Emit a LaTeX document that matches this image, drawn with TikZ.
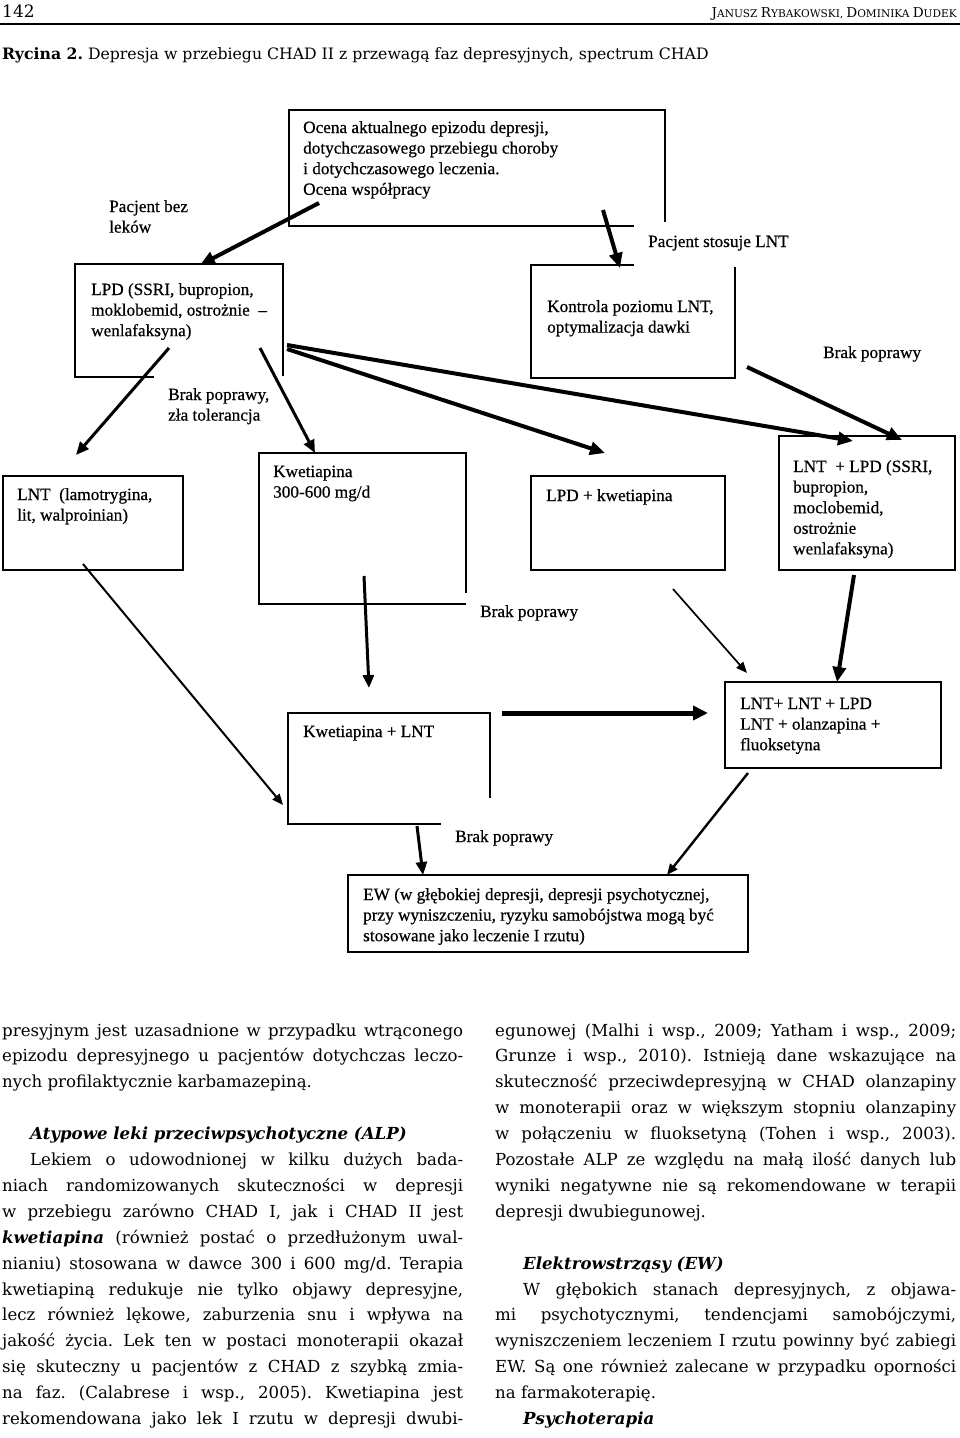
\documentclass[tikz,border=0pt]{standalone}
\usepackage{fontspec}
\setmainfont{DejaVu Serif}
\newfontfamily\tnr[FakeBold=0.5]{Liberation Serif}
\usetikzlibrary{arrows.meta}
\frenchspacing
\newcommand\lns[1]{\begin{tabular}[t]{@{}l@{}}#1\end{tabular}}
\newcommand\JL[1]{\makebox[\linewidth][s]{#1}\par}
\newcommand\LL[1]{\makebox[\linewidth][l]{#1}\par}
\newcommand\fsc[2]{{\fontsize{13.6}{15}\selectfont #1}{\fontsize{10.6}{12}\selectfont #2}}
\newcommand\bi[1]{\textbf{\textit{#1}}}
\tikzset{
  boxline/.style={line width=1.3pt, line cap=rect, line join=miter},
  dtext/.style={anchor=base west, inner sep=0pt, font=\tnr\fontsize{17.2}{20.6}\selectfont},
  body/.style={anchor=base west, inner sep=0pt},
  arrA/.style={line width=4pt, -{Triangle[length=15pt,width=13pt]}},
  arrB/.style={line width=3pt, -{Triangle[length=13pt,width=11pt]}},
  arrC/.style={line width=2pt, -{Triangle[length=11pt,width=9pt]}},
  arrW/.style={line width=5pt, -{Triangle[length=15pt,width=14pt]}},
}
\begin{document}
\begin{tikzpicture}[x=1pt,y=-1pt]
\useasboundingbox (0,0) rectangle (960,1438);
\fill[white] (0,0) rectangle (960,1438);

% ---------- page header ----------
\node[body, font=\fontsize{17}{18}\selectfont] (pgno) at (2,17) {142};
\node[anchor=base east, inner sep=0pt] (authors) at (957,17)
  {\fsc{J}{ANUSZ} \fsc{R}{YBAKOWSKI}, \fsc{D}{OMINIKA} \fsc{D}{UDEK}};
\draw[line width=1.2pt] (0,24) -- (960,24);
\node[body, font=\fontsize{15.7}{18}\selectfont] (caption) at (2,59)
  {\textbf{Rycina 2.} Depresja w przebiegu CHAD II z przewagą faz depresyjnych, spectrum CHAD};

% ---------- boxes ----------
\draw[boxline] (633,226) -- (289,226) -- (289,110) -- (665,110) -- (665,221);   % Ocena
\draw[boxline] (153,377) -- (75,377) -- (75,264) -- (283,264) -- (283,375);     % LPD
\draw[boxline] (633,265) -- (531,265) -- (531,378) -- (735,378) -- (735,268);   % Kontrola
\draw[boxline] (3,476) rectangle (183,570);                                     % LNT
\draw[boxline] (466,592) -- (466,453) -- (259,453) -- (259,604) -- (465,604);   % Kwetiapina
\draw[boxline] (531,476) rectangle (725,570);                                   % LPD + kwetiapina
\draw[boxline] (779,436) rectangle (955,570);                                   % LNT + LPD
\draw[boxline] (490,797) -- (490,713) -- (288,713) -- (288,824) -- (440,824);   % Kwetiapina + LNT
\draw[boxline] (725,682) rectangle (941,768);                                   % LNT+ LNT + LPD
\draw[boxline] (348,875) rectangle (748,952);                                   % EW

% ---------- diagram texts ----------
\node[dtext] (ocena) at (303,133) {\lns{Ocena aktualnego epizodu depresji,\\dotychczasowego przebiegu choroby\\i dotychczasowego leczenia.\\Ocena współpracy}};
\node[dtext] (bezlekow) at (109,212) {\lns{Pacjent bez\\leków}};
\node[dtext] (stosuje) at (648,247) {Pacjent stosuje LNT};
\node[dtext] (lpd) at (91,295) {\lns{LPD (SSRI, bupropion,\\moklobemid, ostrożnie\ \ –\\wenlafaksyna)}};
\node[dtext] (kontrola) at (547,312) {\lns{Kontrola poziomu LNT,\\optymalizacja dawki}};
\node[dtext] (brak1) at (823,358) {Brak poprawy};
\node[dtext] (brak2) at (168,400) {\lns{Brak poprawy,\\zła tolerancja}};
\node[dtext] (lnt) at (17,500) {\lns{LNT\ \ (lamotrygina,\\lit, walproinian)}};
\node[dtext] (kwet) at (273,477) {\lns{Kwetiapina\\300-600 mg/d}};
\node[dtext] (lpdkwet) at (546,501) {LPD + kwetiapina};
\node[dtext] (lntlpd) at (793,472) {\lns{LNT\ \ + LPD (SSRI,\\bupropion,\\moclobemid,\\ostrożnie\\wenlafaksyna)}};
\node[dtext] (brak3) at (480,617) {Brak poprawy};
\node[dtext] (kwetlnt) at (303,737) {Kwetiapina + LNT};
\node[dtext] (lntlnt) at (740,709) {\lns{LNT+ LNT + LPD\\LNT + olanzapina +\\fluoksetyna}};
\node[dtext] (brak4) at (455,842) {Brak poprawy};
\node[dtext] (ew) at (363,900) {\lns{EW (w głębokiej depresji, depresji psychotycznej,\\przy wyniszczeniu, ryzyku samobójstwa mogą być\\stosowane jako leczenie I rzutu)}};

% ---------- connector end points ----------
\coordinate (oc-out1) at (319,203);   \coordinate (lpd-in) at (200,265);
\coordinate (oc-out2) at (603,210);   \coordinate (kon-in) at (620,268);
\coordinate (lpd-o1) at (169,348);    \coordinate (lnt-in) at (76,455);
\coordinate (lpd-o2) at (260,348);    \coordinate (kw-in) at (315,453);
\coordinate (lpd-o3) at (287,349);    \coordinate (lk-in) at (605,453);
\coordinate (lpd-o4) at (287,345);    \coordinate (ll-in1) at (853,441);
\coordinate (kon-out) at (747,367);   \coordinate (ll-in2) at (902,440);
\coordinate (lnt-out) at (83,564);    \coordinate (kl-in1) at (283,805);
\coordinate (kw-out) at (364,576);    \coordinate (kl-in2) at (369,688);
\coordinate (lk-out) at (673,589);    \coordinate (l3-in1) at (747,673);
\coordinate (ll-out) at (854,575);    \coordinate (l3-in2) at (837,682);
\coordinate (kl-out1) at (502,713);   \coordinate (l3-in3) at (708,713);
\coordinate (l3-out) at (748,773);    \coordinate (ew-in1) at (667,875);
\coordinate (kl-out2) at (417,826);   \coordinate (ew-in2) at (423,875);

% ---------- connectors ----------
\draw[arrA] (oc-out1) -- (lpd-in);
\draw[arrA] (oc-out2) -- (kon-in);
\draw[arrB] (lpd-o1) -- (lnt-in);
\draw[arrB] (lpd-o2) -- (kw-in);
\draw[arrA] (lpd-o3) -- (lk-in);
\draw[arrA] (lpd-o4) -- (ll-in1);
\draw[arrA] (kon-out) -- (ll-in2);
\draw[arrC] (lnt-out) -- (kl-in1);
\draw[arrB] (kw-out) -- (kl-in2);
\draw[arrC, line width=1.7pt] (lk-out) -- (l3-in1);
\draw[arrA] (ll-out) -- (l3-in2);
\draw[arrW] (kl-out1) -- (l3-in3);
\draw[arrC, line width=2.4pt] (l3-out) -- (ew-in1);
\draw[arrB] (kl-out2) -- (ew-in2);

% ---------- body text ----------
\node[body] (colL) at (2,1036) {\parbox[t]{461pt}{\setlength\parindent{0pt}\fontsize{16.6}{25.9}\selectfont
\JL{presyjnym jest uzasadnione w przypadku wtrąconego}
\JL{epizodu depresyjnego u pacjentów dotychczas leczo-}
\LL{nych profilaktycznie karbamazepiną.}
\LL{}
\LL{\hspace*{28pt}\bi{Atypowe leki przeciwpsychotyczne (ALP)}}
\JL{\hspace*{28pt}Lekiem o udowodnionej w kilku dużych bada-}
\JL{niach randomizowanych skuteczności w depresji}
\JL{w przebiegu zarówno CHAD I, jak i CHAD II jest}
\JL{\bi{kwetiapina} (również postać o przedłużonym uwal-}
\JL{nianiu) stosowana w dawce 300 i 600 mg/d. Terapia}
\JL{kwetiapiną redukuje nie tylko objawy depresyjne,}
\JL{lecz również lękowe, zaburzenia snu i wpływa na}
\JL{jakość życia. Lek ten w postaci monoterapii okazał}
\JL{się skuteczny u pacjentów z CHAD z szybką zmia-}
\JL{na faz. (Calabrese i wsp., 2005). Kwetiapina jest}
\JL{rekomendowana jako lek I rzutu w depresji dwubi-}
}};
\node[body] (colR) at (495,1036) {\parbox[t]{461pt}{\setlength\parindent{0pt}\fontsize{16.6}{25.9}\selectfont
\JL{egunowej (Malhi i wsp., 2009; Yatham i wsp., 2009;}
\JL{Grunze i wsp., 2010). Istnieją dane wskazujące na}
\JL{skuteczność przeciwdepresyjną w CHAD olanzapiny}
\JL{w monoterapii oraz w większym stopniu olanzapiny}
\JL{w połączeniu w fluoksetyną (Tohen i wsp., 2003).}
\JL{Pozostałe ALP ze względu na małą ilość danych lub}
\JL{wyniki negatywne nie są rekomendowane w terapii}
\LL{depresji dwubiegunowej.}
\LL{}
\LL{\hspace*{28pt}\bi{Elektrowstrząsy (EW)}}
\JL{\hspace*{28pt}W głębokich stanach depresyjnych, z objawa-}
\JL{mi psychotycznymi, tendencjami samobójczymi,}
\JL{wyniszczeniem leczeniem I rzutu powinny być zabiegi}
\JL{EW. Są one również zalecane w przypadku oporności}
\LL{na farmakoterapię.}
\LL{\hspace*{28pt}\bi{Psychoterapia}}
}};
\end{tikzpicture}
\end{document}
